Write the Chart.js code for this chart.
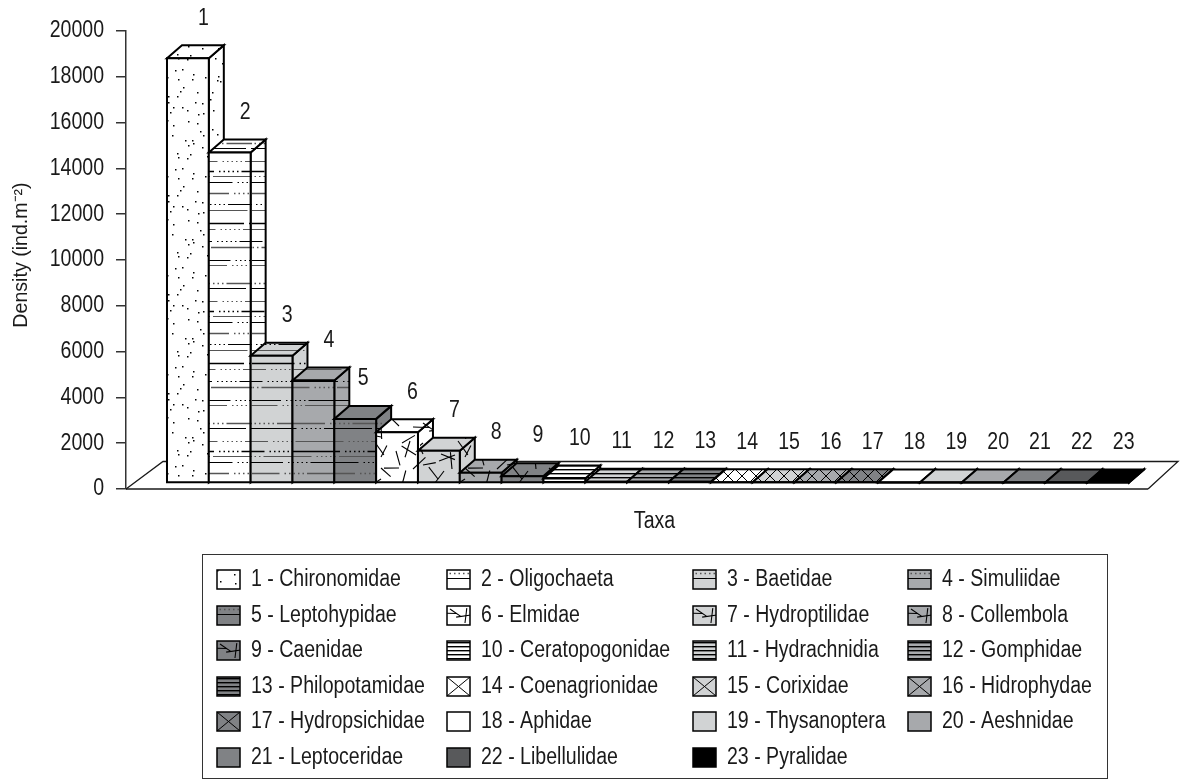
<!DOCTYPE html>
<html>
<head>
<meta charset="utf-8">
<title>Density of taxa</title>
<script src="https://cdn.jsdelivr.net/npm/chart.js"></script>
<style>
  html, body { margin: 0; background: #fff; }
  canvas { display: block; }
</style>
</head>
<body>
<canvas id="taxaChart" width="1183" height="780"></canvas>
<script>
const taxaNumbers = ["1","2","3","4","5","6","7","8","9","10","11","12","13","14","15","16","17","18","19","20","21","22","23"];
const taxaNames = ["Chironomidae","Oligochaeta","Baetidae","Simuliidae","Leptohypidae","Elmidae","Hydroptilidae","Collembola",
  "Caenidae","Ceratopogonidae","Hydrachnidia","Gomphidae","Philopotamidae","Coenagrionidae","Corixidae","Hidrophydae",
  "Hydropsichidae","Aphidae","Thysanoptera","Aeshnidae","Leptoceridae","Libellulidae","Pyralidae"];
const density = [18550,14430,5560,4480,2800,2220,1410,450,300,200,50,50,50,30,30,30,30,20,20,20,20,20,20];
const densityTicks = [0,2000,4000,6000,8000,10000,12000,14000,16000,18000,20000];

// fill of every bar: pattern kind and background
const barKinds = ["dots","lines","lines","lines","lines","sticks","sticks","sticks","sticks",
  "stripes","stripes","stripes","stripes","hatch","hatch","hatch","hatch",
  "solid","solid","solid","solid","solid","solid"];
const barGreys = ["#ffffff","#ffffff","#d1d3d4","#a7a9ac","#808285","#ffffff","#d1d3d4","#a7a9ac","#808285",
  "#ffffff","#d1d3d4","#a7a9ac","#808285","#ffffff","#d1d3d4","#a7a9ac","#808285",
  "#ffffff","#d1d3d4","#a7a9ac","#808285","#58595b","#000000"];

const FONT = '"Liberation Sans", Arial, sans-serif';
const INK = "#1a1a1a";
// 3D look: bars float a little above the axis line and have a fixed depth
const LIFT = 6, DEPTH_X = 15, DEPTH_Y = 13;

const canvas = document.getElementById("taxaChart");
const ctx2d = canvas.getContext("2d");

// the original type is Arial Narrow-like, no narrow face is installed so squeeze horizontal text
const plainFillText = ctx2d.fillText.bind(ctx2d);
ctx2d.fillText = (text, x, y) => {
  if (ctx2d.getTransform().b !== 0) return plainFillText(text, x, y);
  plainFillText(text, x, y, ctx2d.measureText(text).width * 0.85);
};

function tile(w, h, bg, paint) {
  const c = document.createElement("canvas");
  c.width = w; c.height = h;
  const g = c.getContext("2d");
  g.fillStyle = bg;
  g.fillRect(0, 0, w, h);
  g.strokeStyle = "#000";
  g.fillStyle = "#000";
  paint(g, w, h);
  return ctx2d.createPattern(c, "repeat");
}

const linesY = [3,8,21,31,36,42,53,64,70,83,89,101,107,120,125];

function makeFill(kind, bg, big) {
  if (kind === "solid") return bg;
  if (kind === "dots") return tile(70, 99, bg, g => {
    // jittered grid so the specks look scattered, not lined up
    for (let r = 0; r < 9; r++) for (let c = 0; c < 7; c++) {
      const i = r * 7 + c;
      g.fillRect(c * 10 + (i * i * 7) % 10, r * 11 + (i * i * 3 + i) % 11, 1.5, 1.5);
    }
  });
  if (kind === "lines") return tile(126, 140, bg, g => {
    linesY.forEach((y, i) => {
      g.lineWidth = i % 3 === 0 ? 1.6 : 1;
      g.strokeStyle = i % 2 ? "#000" : "#555";
      const x = (i * 47) % 126;
      g.setLineDash([48, 5, 1.5, 3, 1.5, 3, 1.5, 3, 1.5, 3, 1.5, 3]);
      g.beginPath();
      g.moveTo(x - 126, y + 0.5);
      g.lineTo(x + 126, y + 0.5);
      g.stroke();
    });
  });
  if (kind === "sticks") return tile(84, 84, bg, g => {
    g.lineWidth = 1.1;
    for (let r = 0; r < 6; r++) for (let c = 0; c < 6; c++) {
      const i = r * 6 + c;
      const x = c * 14 + 3 + (i * i * 7) % 9, y = r * 14 + 3 + (i * i * 5 + i) % 9;
      const a = i * 2.4 + 0.6, len = 13 + (i % 3) * 2;
      for (const dx of [0, -84]) for (const dy of [0, -84]) {
        g.beginPath();
        g.moveTo(x + dx, y + dy);
        g.lineTo(x + dx + Math.cos(a) * len, y + dy + Math.sin(a) * len);
        g.stroke();
      }
    }
  });
  if (kind === "stripes") return tile(4, 4, bg, g => g.fillRect(0, 1, 4, 1.4));
  if (kind === "hatch") {
    const w = big ? 23 : 14, h = big ? 19 : 14;
    return tile(w, h, bg, g => {
      g.lineWidth = 1;
      g.beginPath();
      g.moveTo(0, 0); g.lineTo(w, h);
      g.moveTo(w, 0); g.lineTo(0, h);
      g.stroke();
    });
  }
}

const barFills = barKinds.map((k, i) => makeFill(k, barGreys[i], false));
const swatchFills = barKinds.map((k, i) => makeFill(k, barGreys[i], true));

// bar element with side and top faces, drawn left to right so the next bar hides the side
class Bar3D extends Chart.BarElement {
  static id = "bar3d";
  draw(ctx) {
    const { x, y, base, width } = this.getProps(["x", "y", "base", "width"]);
    const o = this.options;
    const l = x - width / 2, r = x + width / 2, t = y - LIFT, b = base - LIFT;
    const face = pts => {
      ctx.beginPath();
      pts.forEach((p, i) => i ? ctx.lineTo(p[0], p[1]) : ctx.moveTo(p[0], p[1]));
      ctx.closePath();
      ctx.fill();
      ctx.stroke();
    };
    ctx.save();
    ctx.fillStyle = o.backgroundColor;
    ctx.strokeStyle = o.borderColor;
    ctx.lineWidth = o.borderWidth;
    ctx.lineJoin = "miter";
    face([[r, t], [r + DEPTH_X, t - DEPTH_Y], [r + DEPTH_X, b - DEPTH_Y], [r, b]]);
    face([[l, t], [l + DEPTH_X, t - DEPTH_Y], [r + DEPTH_X, t - DEPTH_Y], [r, t]]);
    face([[l, t], [r, t], [r, b], [l, b]]);
    ctx.restore();
  }
}
class Bar3DController extends Chart.BarController {
  static id = "bar3d";
  static defaults = { ...Chart.BarController.defaults, dataElementType: "bar3d" };
}
Chart.register(Bar3D, Bar3DController);

const floorPlugin = {
  id: "floor",
  beforeDatasetsDraw(chart) {
    const { ctx, chartArea: a } = chart;
    const backY = a.bottom - 27.5;
    ctx.save();
    ctx.strokeStyle = INK;
    ctx.lineWidth = 1.3;
    ctx.beginPath();
    ctx.moveTo(a.left, a.bottom);
    ctx.lineTo(a.left + 37, backY);
    ctx.lineTo(a.right - 5, backY);
    ctx.lineTo(a.right - 35, a.bottom);
    ctx.stroke();
    ctx.lineWidth = 1.6;
    ctx.beginPath();
    ctx.moveTo(a.left, a.bottom);
    ctx.lineTo(a.right - 35, a.bottom);
    ctx.stroke();
    ctx.restore();
  }
};

const barLabelsPlugin = {
  id: "barLabels",
  afterDatasetsDraw(chart) {
    const { ctx } = chart;
    ctx.save();
    ctx.font = "23px " + FONT;
    ctx.fillStyle = INK;
    ctx.textAlign = "center";
    ctx.textBaseline = "middle";
    chart.getDatasetMeta(0).data.forEach((bar, i) => {
      const shift = i === 4 ? 8 : 15.5;
      ctx.fillText(taxaNumbers[i], bar.x + shift, bar.y - LIFT - DEPTH_Y - 27);
    });
    ctx.restore();
  }
};

const legendPlugin = {
  id: "taxaLegend",
  afterDraw(chart) {
    const { ctx } = chart;
    const colX = [217, 447, 693, 908];
    const rowY = [580, 616, 651, 687, 722, 758];
    ctx.save();
    ctx.strokeStyle = "#333";
    ctx.lineWidth = 1;
    ctx.strokeRect(202.5, 554.5, 905, 224);
    ctx.font = "23px " + FONT;
    ctx.textBaseline = "middle";
    taxaNames.forEach((name, i) => {
      const x = colX[i % 4], y = rowY[Math.floor(i / 4)];
      ctx.save();
      ctx.translate(x, y - 10);
      ctx.fillStyle = swatchFills[i];
      ctx.strokeStyle = "#000";
      ctx.lineWidth = 1.5;
      ctx.fillRect(0, 0, 23, 19);
      ctx.strokeRect(0, 0, 23, 19);
      ctx.restore();
      ctx.fillStyle = INK;
      ctx.fillText(taxaNumbers[i] + " - " + name, x + 34, y);
    });
    // y axis title sits a bit above the axis centre in the original
    ctx.translate(22, 255);
    ctx.rotate(-Math.PI / 2);
    ctx.font = "19.6px " + FONT;
    ctx.textAlign = "center";
    ctx.fillText("Density (ind.m⁻²)", 0, 0);
    ctx.restore();
  }
};

new Chart(canvas, {
  type: "bar3d",
  data: {
    labels: taxaNumbers,
    datasets: [{
      data: density,
      backgroundColor: barFills,
      borderColor: "#000",
      borderWidth: 2,
      categoryPercentage: 1,
      barPercentage: 1,
      clip: false
    }]
  },
  options: {
    responsive: false,
    animation: false,
    layout: { padding: { top: 31 } },
    plugins: { legend: { display: false }, tooltip: { enabled: false } },
    scales: {
      x: {
        type: "linear",
        offset: false,
        min: -0.48,
        max: 24.79,
        afterFit: s => { s.height = 291; },
        ticks: { display: false },
        grid: { display: false },
        border: { display: false },
        title: {
          display: true,
          text: "Taxa",
          color: INK,
          font: { family: FONT, size: 23 },
          padding: { bottom: 245 }
        }
      },
      y: {
        type: "linear",
        min: 0,
        max: 20000,
        afterFit: s => { s.width = 126; },
        afterBuildTicks: s => { s.ticks = densityTicks.map(v => ({ value: v })); },
        ticks: {
          autoSkip: false,
          padding: 12,
          color: INK,
          font: { family: FONT, size: 23 },
          callback: v => String(v)
        },
        grid: { drawOnChartArea: false, tickLength: 10, tickColor: "#333", lineWidth: 1.5 },
        border: { color: "#333", width: 1.5 }
      }
    }
  },
  plugins: [floorPlugin, barLabelsPlugin, legendPlugin]
});
</script>
</body>
</html>
